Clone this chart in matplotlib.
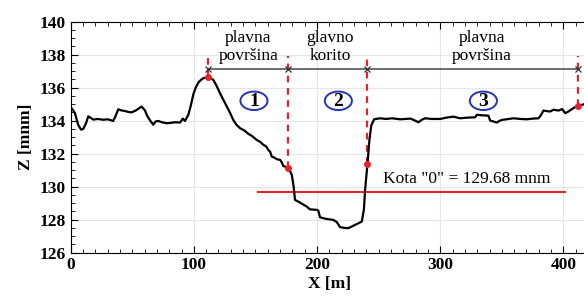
import numpy as np
import matplotlib.pyplot as plt
from matplotlib.patches import Ellipse
from matplotlib.ticker import MultipleLocator

# cross-section profile (X [m], Z [mnm])
profile = [
    (0, 134.7), (0.8, 134.75), (3.5, 134.45), (6, 133.75), (8.5, 133.45),
    (10.3, 133.5), (12.5, 133.85), (14.3, 134.26), (16.5, 134.15),
    (18.4, 134.06), (22, 134.1), (26.5, 134.05), (30, 134.08), (34.6, 133.98),
    (36, 134.2), (38.7, 134.69), (41, 134.62), (44.1, 134.58), (47, 134.52),
    (49.5, 134.5), (53, 134.62), (57.6, 134.85), (60.3, 134.62), (62, 134.3),
    (64.4, 134.02), (67, 133.75), (69, 133.95), (71.1, 133.98), (74, 133.9),
    (78, 133.84), (81, 133.86), (84.7, 133.9), (88.8, 133.88), (91, 134.12),
    (92.8, 133.98), (95.5, 134.35), (97.5, 134.9), (99.6, 135.6),
    (101.5, 136.0), (103.6, 136.3), (105.5, 136.45), (107.7, 136.57),
    (111.7, 136.63), (115.8, 136.47), (118.5, 136.1), (121.2, 135.66),
    (124, 135.25), (126.7, 134.85), (129.5, 134.45), (132, 134.04),
    (134.5, 133.75), (137.5, 133.54), (141, 133.4), (144.2, 133.2),
    (147.5, 133.05), (151, 132.83), (154, 132.7), (156.4, 132.53),
    (158.5, 132.45), (160.5, 132.22), (162, 132.1), (163.2, 131.82),
    (165.5, 131.75), (167.3, 131.66), (170, 131.62), (171.5, 131.45),
    (172.6, 131.25), (174.5, 131.2), (176.7, 131.11), (178, 130.95),
    (179.5, 130.71), (181, 130.0), (182.1, 129.19), (184.8, 129.09),
    (188, 128.95), (191.6, 128.79), (194.3, 128.62), (199.8, 128.59),
    (201, 128.55), (202.4, 128.14), (207, 128.05), (213.2, 127.98),
    (216, 127.85), (218.7, 127.54), (222, 127.5), (225.4, 127.48),
    (230, 127.65), (234, 127.8), (236.3, 127.88), (238, 128.6), (239, 129.8),
    (240.9, 131.36), (242.5, 132.83), (244, 133.7), (246.3, 134.08),
    (251.2, 134.14), (256, 134.1), (261, 134.14), (267.4, 134.08),
    (272, 134.1), (276, 134.12), (279.6, 134.0), (282.3, 133.9),
    (285, 134.05), (287.7, 134.14), (293, 134.1), (299.9, 134.1),
    (305, 134.18), (310.7, 134.24), (316.1, 134.14), (322, 134.18),
    (328.3, 134.2), (329.7, 134.35), (334, 134.32), (339.1, 134.3),
    (340.5, 134.0), (343, 133.95), (345.9, 133.88), (348, 133.98),
    (350, 134.04), (354, 134.08), (359.4, 134.14), (365, 134.1),
    (370.3, 134.08), (375, 134.12), (379.7, 134.14), (381.5, 134.3),
    (383.8, 134.61), (386, 134.58), (389.2, 134.55), (392, 134.66),
    (396, 134.61), (399, 134.7), (401.4, 134.45), (404, 134.55),
    (406.8, 134.69), (409, 134.8), (412.2, 134.89), (416.8, 135.0),
    (420, 135.05),
]
x = [p[0] for p in profile]
z = [p[1] for p in profile]

# section boundaries and their points on the profile
bx = [111.7, 176.7, 240.9, 412.2]
bz = [136.63, 131.11, 131.36, 134.89]
dim_z = 137.1
zero_level = 129.68
zero_x = [152, 401]

sections = ['plavna\npovršina', 'glavno\nkorito', 'plavna\npovršina']
sec_x = [144.2, 210.6, 333.7]
nums = ['1', '2', '3']
num_x = [148.8, 217.3, 335]
num_z = 135.2

plt.rcParams['font.family'] = ['Liberation Serif', 'DejaVu Serif']

fig = plt.figure(figsize=(5.84, 3.0), dpi=100)
ax = fig.add_axes([0.121, 0.158, 0.886, 0.770])

ax.plot(x, z, '-k', lw=1.6, zorder=3)

# red dashed boundary lines and points
for xi, zi in zip(bx, bz):
    ax.plot([xi, xi], [zi, 137.9], '--', color='#e8222a', lw=1.6,
            dashes=(3, 2.5), zorder=2)
ax.plot(bx, bz, 'o', color='#e8222a', ms=4, zorder=4)

# dimension line
ax.plot([bx[0], bx[-1]], [dim_z, dim_z], '-', color='#555555', lw=1.2, zorder=2)
ax.plot(bx, [dim_z] * 4, 'x', color='#333333', ms=4, mew=0.9, zorder=3)

for s, sx in zip(sections, sec_x):
    ax.text(sx, 138.45, s, ha='center', va='center', fontsize=12.5,
            linespacing=1.2)

for n, nx in zip(nums, num_x):
    ax.add_patch(Ellipse((nx, num_z), 22, 1.12, fc='white', ec='#2233bb',
                         lw=1.4, zorder=3))
    ax.text(nx, num_z - 0.03, n, ha='center', va='center', fontsize=14,
            fontweight='bold', zorder=4)

# zero level
ax.plot(zero_x, [zero_level, zero_level], '-', color='#e8222a', lw=1.5,
        zorder=2)
ax.text(321.5, 130.45, 'Kota "0" = %.2f mnm' % zero_level, ha='center',
        va='center', fontsize=12.5)

ax.set_xlim(0, 420)
ax.set_ylim(126, 140)
ax.xaxis.set_major_locator(MultipleLocator(100))
ax.xaxis.set_minor_locator(MultipleLocator(10))
ax.yaxis.set_major_locator(MultipleLocator(2))
ax.yaxis.set_minor_locator(MultipleLocator(0.5))
ax.tick_params(which='both', direction='in', top=True, right=False,
               labelsize=12.5)
ax.tick_params(which='major', length=5)
ax.tick_params(which='minor', length=3)
for lab in ax.get_xticklabels() + ax.get_yticklabels():
    lab.set_fontweight('bold')
ax.spines['right'].set_visible(False)
ax.grid(True, color='#e6e6e6', lw=0.8)
ax.set_axisbelow(True)

ax.set_xlabel('X [m]', fontsize=12.5, fontweight='bold', labelpad=2)
ax.set_ylabel('Z [mnm]', fontsize=12.5, fontweight='bold', labelpad=4)

fig.savefig('out.png', dpi=100)
